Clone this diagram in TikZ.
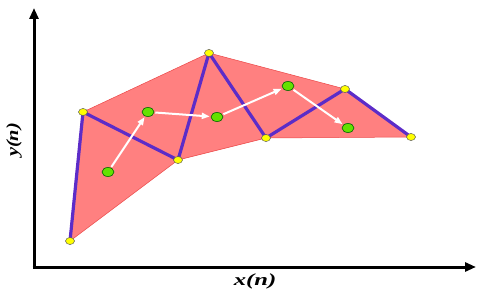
\documentclass[tikz,border=0pt]{standalone}
\usepackage{fontspec}
\setmainfont{Liberation Serif}
\usetikzlibrary{arrows.meta}
\definecolor{pinkfill}{RGB}{255,128,128}
\definecolor{pinkedge}{RGB}{235,70,70}
\definecolor{zig}{RGB}{92,44,200}
\definecolor{ydot}{RGB}{255,255,0}
\definecolor{gdot}{RGB}{100,225,0}
\tikzset{
  axis/.style={line width=3pt,-{Triangle[length=11pt,width=9pt]}},
  zigline/.style={line width=3.2pt,zig,line join=round},
  ynode/.style={ellipse,draw=gray!70!black,line width=0.5pt,fill=ydot,minimum width=9pt,minimum height=7pt,inner sep=0pt},
  gnode/.style={ellipse,draw=green!40!black,line width=0.6pt,fill=gdot,minimum width=12pt,minimum height=9pt,inner sep=0pt},
  warrow/.style={white,line width=2pt,-{Triangle[length=8pt,width=6pt]},shorten >=1pt,shorten <=1pt},
  lab/.style={font=\fontsize{17}{17}\selectfont\bfseries\itshape}
}
\usetikzlibrary{shapes.geometric}
\begin{document}
\begin{tikzpicture}[x=1pt,y=-1pt]
\useasboundingbox (0,0) rectangle (479,294);
% points
\coordinate (p1) at (70,241);
\coordinate (p2) at (83,112);
\coordinate (p3) at (178,160);
\coordinate (p4) at (209,53);
\coordinate (p5) at (266,138);
\coordinate (p6) at (345,89);
\coordinate (p7) at (411,137);
% axes
\coordinate (o) at (34,267);
\coordinate (ytip) at (34,8);
\coordinate (xtip) at (476,267);
\draw[axis] ([xshift=-1.5pt]o) -- (xtip);
\draw[axis] ([yshift=1.5pt]o) -- (ytip);
% polygon
\filldraw[fill=pinkfill,draw=pinkedge,line width=0.5pt,line join=round]
  (p1) -- (p2) -- (p4) -- (p6) -- (p7) -- (p5) -- (p3) -- cycle;
% zigzag
\draw[zigline] (p1) -- (p2) -- (p3) -- (p4) -- (p5) -- (p6) -- (p7);
% green points
\node[gnode] (g1) at (108,172) {};
\node[gnode] (g2) at (148,112) {};
\node[gnode] (g3) at (217,117) {};
\node[gnode] (g4) at (288,86) {};
\node[gnode] (g5) at (348,128) {};
\draw[warrow] (g1) -- (g2);
\draw[warrow] (g2) -- (g3);
\draw[warrow] (g3) -- (g4);
\draw[warrow] (g4) -- (g5);
% yellow points
\foreach \i in {1,...,7} \node[ynode] (y\i) at (p\i) {};
% labels
\node[lab,xscale=1.45] (xl) at (255,281) {x(n)};
\node[lab,rotate=90,xscale=1.2] (yl) at (14,140) {y(n)};
\end{tikzpicture}
\end{document}
